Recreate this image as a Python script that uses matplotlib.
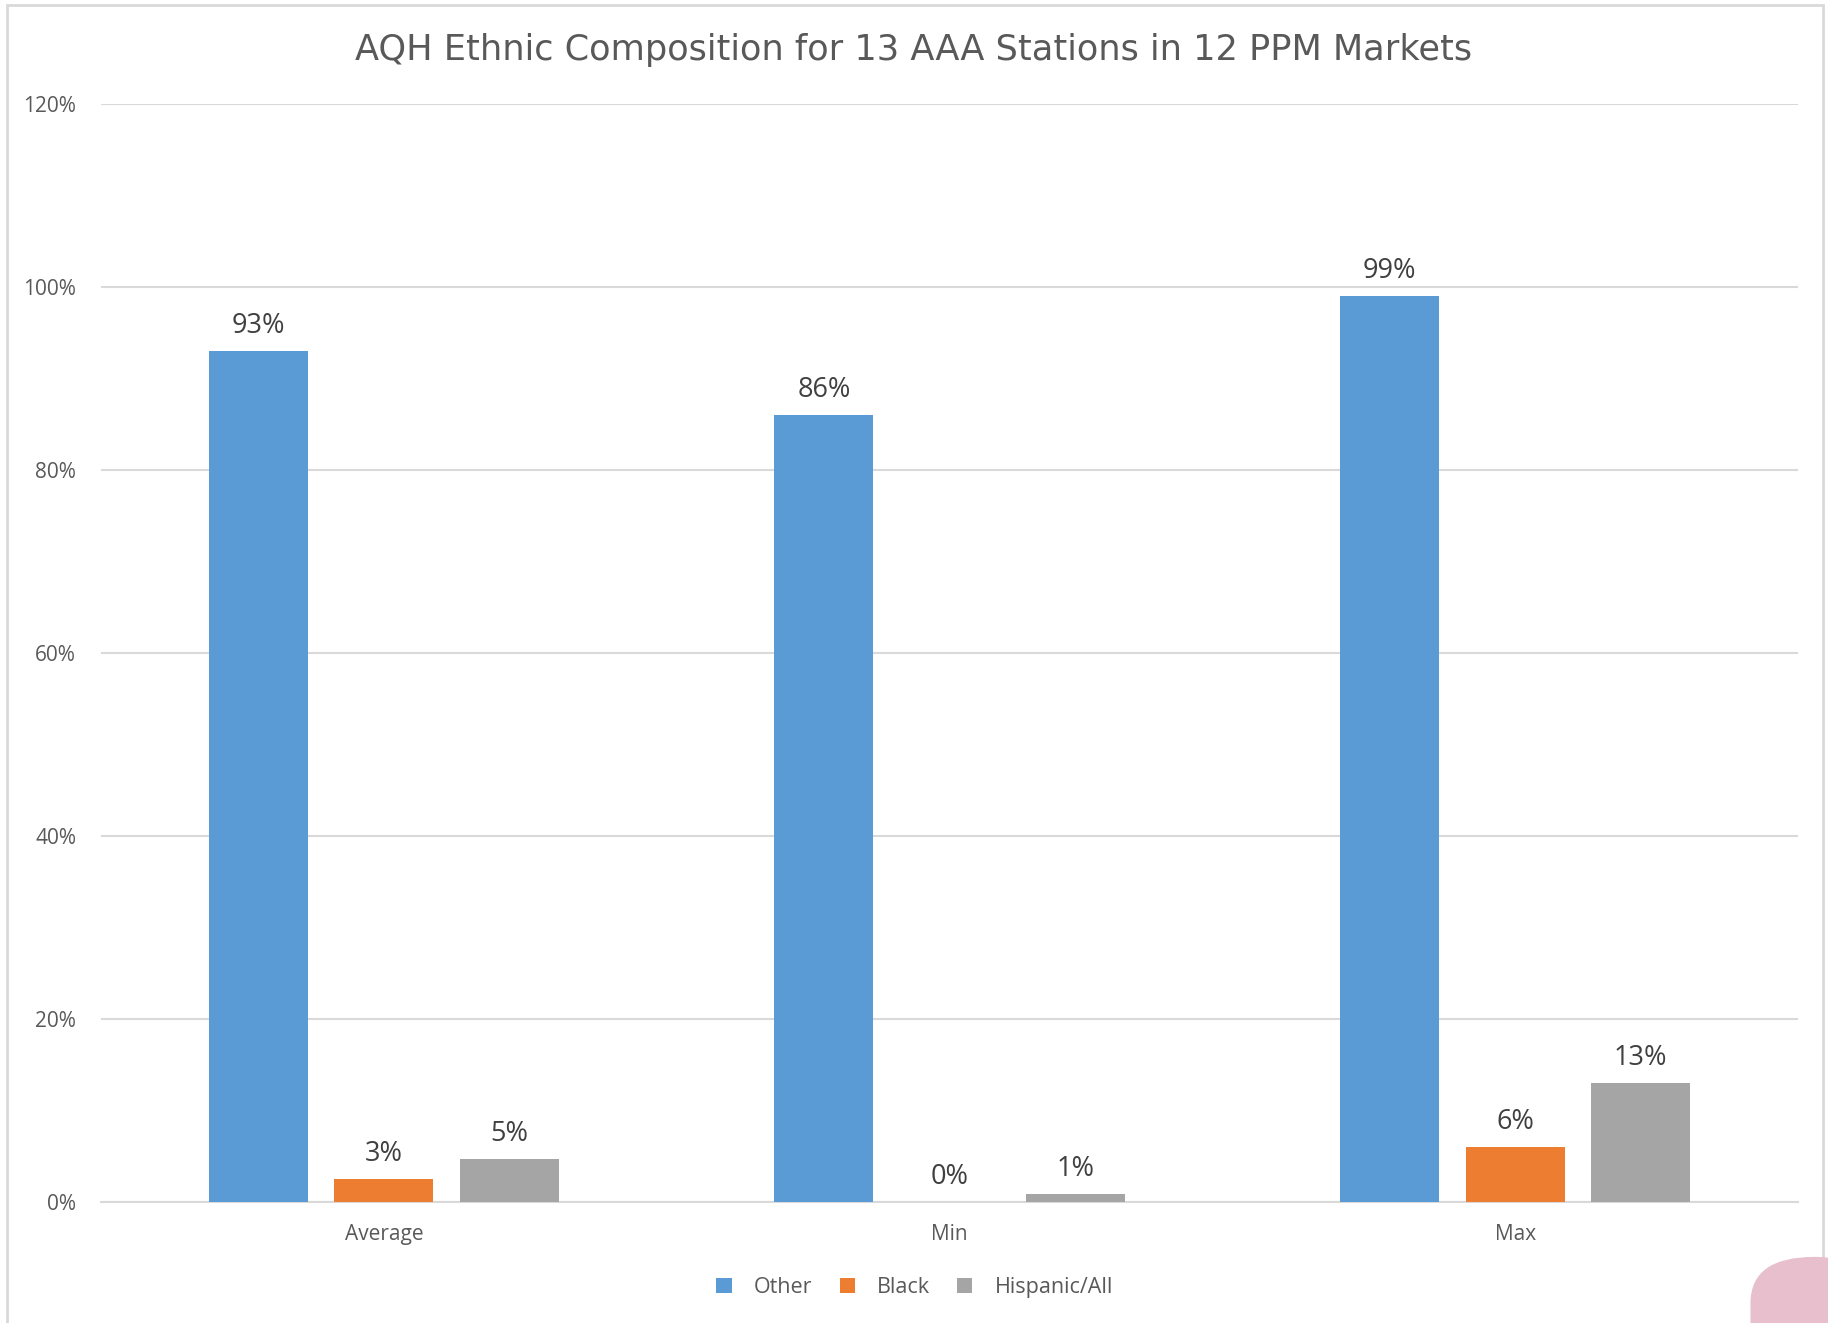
import numpy as np
import matplotlib.pyplot as plt
from matplotlib.patches import FancyBboxPatch, Rectangle

categories = ['Average', 'Min', 'Max']
series = ['Other', 'Black', 'Hispanic/All']
other = [0.93, 0.86, 0.99]
black = [0.025, 0.0, 0.06]
hispanic = [0.047, 0.009, 0.13]
labels = [['93%', '86%', '99%'], ['3%', '0%', '6%'], ['5%', '1%', '13%']]
colors = ['#5B9BD5', '#ED7D31', '#A5A5A5']
yticks = [0, 0.2, 0.4, 0.6, 0.8, 1.0, 1.2]
ytick_labels = ['0%', '20%', '40%', '60%', '80%', '100%', '120%']

text_color = '#595959'
plt.rcParams['font.family'] = ['Open Sans', 'DejaVu Sans']

fig = plt.figure(figsize=(18.28, 13.23), dpi=100)
ax = fig.add_axes([0.0553, 0.0915, 0.9283, 0.8299])

x = np.arange(len(categories))
width = 0.175
offsets = [-0.222, 0, 0.222]
for vals, lab, off, c, name in zip([other, black, hispanic], labels, offsets, colors, series):
    bars = ax.bar(x + off, vals, width, color=c, label=name, zorder=3)
    for b, v, t in zip(bars, vals, lab):
        ax.text(b.get_x() + b.get_width() / 2, v + 0.012, t, ha='center', va='bottom',
                fontsize=19.5, color='#404040')

ax.set_xlim(-0.5, 2.5)
ax.set_ylim(0, 1.2)
ax.set_yticks(yticks)
ax.set_yticklabels(ytick_labels)
ax.set_xticks(x)
ax.set_xticklabels(categories)
ax.tick_params(axis='both', length=0, labelsize=15, colors=text_color)
ax.tick_params(axis='x', pad=16)
ax.tick_params(axis='y', pad=18)
ax.grid(axis='y', color='#D9D9D9', linewidth=1.5, zorder=0)
for s in ['top', 'right', 'left']:
    ax.spines[s].set_visible(False)
ax.spines['bottom'].set_color('#D9D9D9')
ax.spines['bottom'].set_linewidth(1.5)

fig.text(0.5, 0.962, 'AQH Ethnic Composition for 13 AAA Stations in 12 PPM Markets',
         ha='center', va='center', fontsize=25.3, color=text_color, family=['DejaVu Sans'])

fig.legend(loc='center', bbox_to_anchor=(0.5005, 0.027), ncol=3, frameon=False,
           fontsize=15.5, handlelength=0.7, handleheight=0.7, columnspacing=1.25,
           handletextpad=1.05, labelcolor=text_color)

# chart frame
fig.patches.append(Rectangle((0.004, -0.01), 0.993, 1.006, transform=fig.transFigure,
                             fill=False, edgecolor='#D9D9D9', linewidth=2))
# pink corner
fig.patches.append(FancyBboxPatch((0.9576, -0.05), 0.07, 0.1, transform=fig.transFigure,
                                  boxstyle='round,pad=0,rounding_size=0.035',
                                  facecolor='#E8BFCD', edgecolor='none'))

fig.savefig('out.png', dpi=100)
